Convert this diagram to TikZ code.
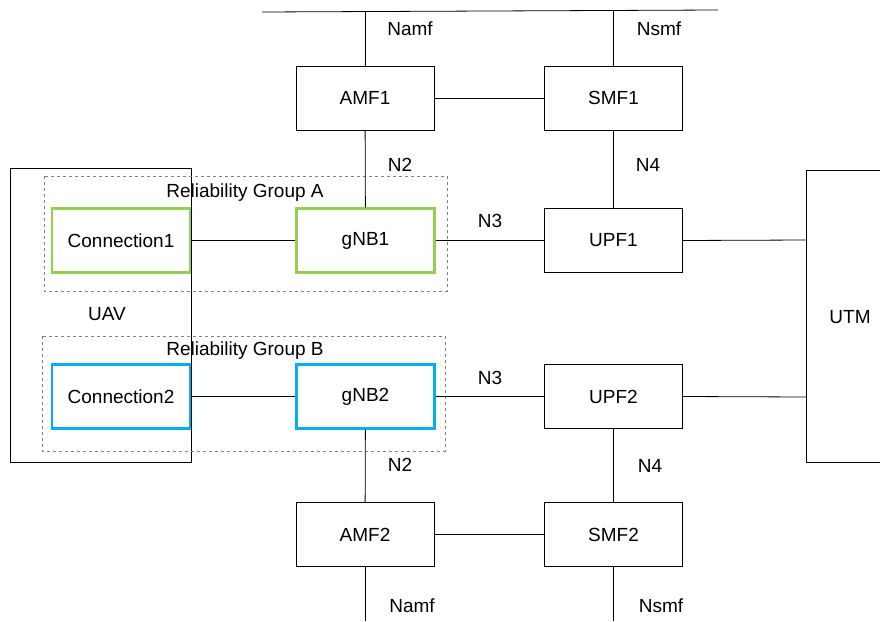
\documentclass[tikz,border=0pt]{standalone}
\usepackage{fontspec}
\setmainfont{Liberation Sans}
\definecolor{grn}{RGB}{146,208,80}
\definecolor{cyn}{RGB}{0,176,240}
\begin{document}
\begin{tikzpicture}[x=1pt,y=-1pt,
  every node/.style={font=\fontsize{19}{22}\selectfont},
  nf/.style={draw=black,line width=0.8pt,rectangle,minimum width=138pt,minimum height=64pt,inner sep=0pt},
  gbox/.style={draw=grn,line width=2.2pt,rectangle,minimum width=138pt,minimum height=64pt,inner sep=0pt},
  cbox/.style={draw=cyn,line width=2.2pt,rectangle,minimum width=138pt,minimum height=64pt,inner sep=0pt},
  grp/.style={draw=gray,dashed,line width=0.6pt},
  lnk/.style={draw=black,line width=0.8pt},
  lbl/.style={inner sep=0pt}]
\useasboundingbox (0,0) rectangle (880,621);
\begin{scope}
\clip (0,0) rectangle (880,621);
% outer boxes
\draw[lnk] (10,168) rectangle (191,462);
\node[lbl] (uav) at (107,314) {UAV};
\draw[lnk] (806,170) rectangle (900,462);
\node[lbl] (utm) at (850,317) {UTM};
\path (806,240) coordinate (utmA) (806,397) coordinate (utmB);
% groups
\draw[grp] (44,176) rectangle (447,291);
\node[lbl] (grpA) at (245,193) {Reliability Group A};
\draw[grp] (42,336) rectangle (445,451);
\node[lbl] (grpB) at (245,351) {Reliability Group B};
% nodes
\node[nf] (amf1) at (365,98) {AMF1};
\node[nf] (smf1) at (613.5,98) {SMF1};
\node[gbox] (c1) at (121,240.5) {Connection1};
\node[gbox] (gnb1) at (365.5,240.5) {gNB1};
\node[nf] (upf1) at (613.5,240.5) {UPF1};
\node[cbox] (c2) at (121,396.5) {Connection2};
\node[cbox] (gnb2) at (365.5,396.5) {gNB2};
\node[nf] (upf2) at (613.5,396.5) {UPF2};
\node[nf] (amf2) at (365,534.5) {AMF2};
\node[nf] (smf2) at (613.5,534.5) {SMF2};
% bus lines
\coordinate (busL) at (262,12);
\coordinate (busR) at (718,10);
\draw[lnk] (busL) -- (busR);
\draw[lnk] (amf1.north) -- (amf1.north |- 0,11.2);
\draw[lnk] (smf1.north) -- (smf1.north |- 0,10.3);
\coordinate (botA) at (365,621);
\coordinate (botS) at (613.5,621);
\draw[lnk] (amf2.south) -- (botA);
\draw[lnk] (smf2.south) -- (botS);
% links
\draw[lnk] (amf1) -- (smf1);
\draw[lnk] (amf1) -- (gnb1);
\draw[lnk] (smf1) -- (upf1);
\draw[lnk] (c1) -- (gnb1);
\draw[lnk] (gnb1) -- (upf1);
\draw[lnk] (upf1.east) -- (utmA);
\draw[lnk] (c2) -- (gnb2);
\draw[lnk] (gnb2) -- (upf2);
\draw[lnk] (upf2.east) -- (utmB);
\draw[lnk] (gnb2) -- (amf2);
\draw[lnk] (upf2) -- (smf2);
\draw[lnk] (amf2) -- (smf2);
% labels
\node[lbl] (namf1) at (410,29) {Namf};
\node[lbl] (nsmf1) at (659,29) {Nsmf};
\node[lbl] (n2a) at (400,165) {N2};
\node[lbl] (n4a) at (648,165) {N4};
\node[lbl] (n3a) at (490,221) {N3};
\node[lbl] (n3b) at (490,378) {N3};
\node[lbl] (n2b) at (400,465) {N2};
\node[lbl] (n4b) at (650,466) {N4};
\node[lbl] (namf2) at (412,606) {Namf};
\node[lbl] (nsmf2) at (661,606) {Nsmf};
\end{scope}
\end{tikzpicture}
\end{document}
